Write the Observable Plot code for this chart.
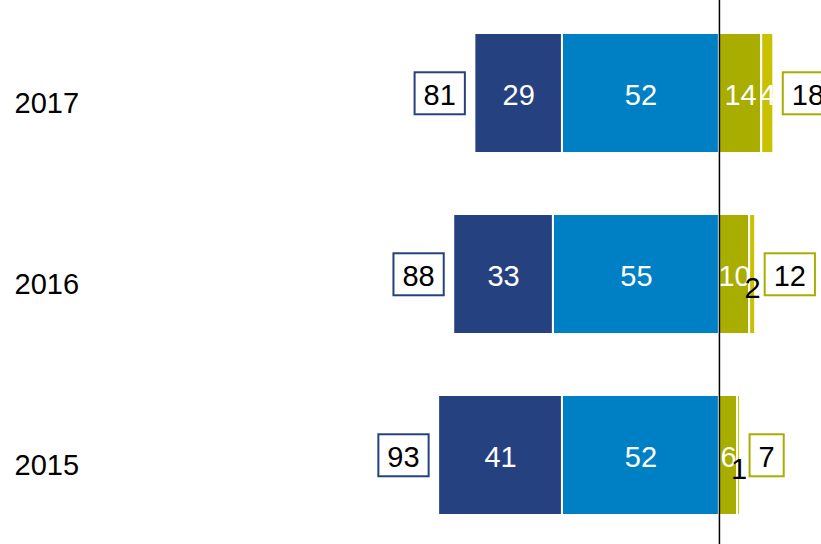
<!DOCTYPE html>
<html><head><meta charset="utf-8">
<script src="https://cdn.jsdelivr.net/npm/d3@7"></script>
<script src="https://cdn.jsdelivr.net/npm/@observablehq/plot@0.6"></script>
<style>
html,body{margin:0;padding:0;background:#fff;overflow:hidden;}
</style></head>
<body><div id="chart"></div>
<script>
const years = ["2017", "2016", "2015"];
const strongNeg = [29, 33, 41];
const neg = [52, 55, 52];
const pos = [14, 10, 6];
const strongPos = [4, 2, 1];
const totalNeg = [81, 88, 93];
const totalPos = [18, 12, 7];

const colors = {neg: "#0080c4", strongNeg: "#26417f", pos: "#a8ad00", strongPos: "#c9c100"};

const segs = [];
years.forEach((y, i) => {
  segs.push({year: y, series: "neg", value: -neg[i], label: neg[i]});
  segs.push({year: y, series: "strongNeg", value: -strongNeg[i], label: strongNeg[i]});
  segs.push({year: y, series: "pos", value: pos[i], label: pos[i]});
  segs.push({year: y, series: "strongPos", value: strongPos[i], label: strongPos[i]});
});
const small = d => d.series === "strongPos" && d.label < 3;
const negTotals = years.map((y, i) => ({year: y, x: -totalNeg[i], t: totalNeg[i]}));
const posTotals = years.map((y, i) => ({year: y, x: totalPos[i], t: totalPos[i]}));
const FS = 29;

const chart = Plot.plot({
  width: 821, height: 544,
  marginLeft: 0, marginRight: 0, marginTop: 0, marginBottom: 0,
  style: {fontFamily: "Arial, 'Liberation Sans', sans-serif", background: "#fff", overflow: "visible"},
  x: {domain: [-238.1, 33.8], range: [0, 821], axis: null},
  y: {type: "band", domain: years, range: [0, 548], paddingInner: 0.337, paddingOuter: 0.182, axis: null},
  marks: [
    Plot.barX(segs, Plot.stackX({x: "value", y: "year", fill: d => colors[d.series], stroke: "white", strokeWidth: 2})),
    Plot.text(segs, Plot.stackX({x: "value", y: "year", text: d => small(d) ? "" : d.label, fill: "white", fontSize: FS, dy: 2})),
    Plot.text(segs, Plot.stackX({x: "value", y: "year", text: d => small(d) ? d.label : "", fill: "black", fontSize: FS, dy: 14})),
    Plot.ruleX([0], {stroke: "black", strokeWidth: 1.5}),
    Plot.text(negTotals, {x: "x", y: "year", text: "t", textAnchor: "end", dx: -19, dy: 2, fill: "black", fontSize: FS}),
    Plot.text(posTotals, {x: "x", y: "year", text: "t", textAnchor: "start", dx: 18, dy: 2, fill: "black", fontSize: FS}),
    Plot.text(years, {y: d => d, text: d => d, frameAnchor: "left", textAnchor: "start", dx: 14, dy: 10, fill: "black", fontSize: FS})
  ]
});
document.getElementById("chart").appendChild(chart);

const textGroups = chart.querySelectorAll('g[aria-label="text"]');
function boxes(g, color) {
  if (!g) return;
  g.querySelectorAll("text").forEach(t => {
    const b = t.getBBox();
    const tr = t.getAttribute("transform");
    const r = document.createElementNS("http://www.w3.org/2000/svg", "rect");
    const cy = b.y + b.height / 2 - 1.5;
    r.setAttribute("x", b.x - 9);
    r.setAttribute("width", b.width + 18);
    r.setAttribute("y", cy - 21);
    r.setAttribute("height", 42);
    r.setAttribute("fill", "white");
    r.setAttribute("stroke", color);
    r.setAttribute("stroke-width", 2);
    if (tr) r.setAttribute("transform", tr);
    t.parentNode.insertBefore(r, t);
  });
}
boxes(textGroups[2], "#26417f");
boxes(textGroups[3], "#a8ad00");
</script>
</body></html>
